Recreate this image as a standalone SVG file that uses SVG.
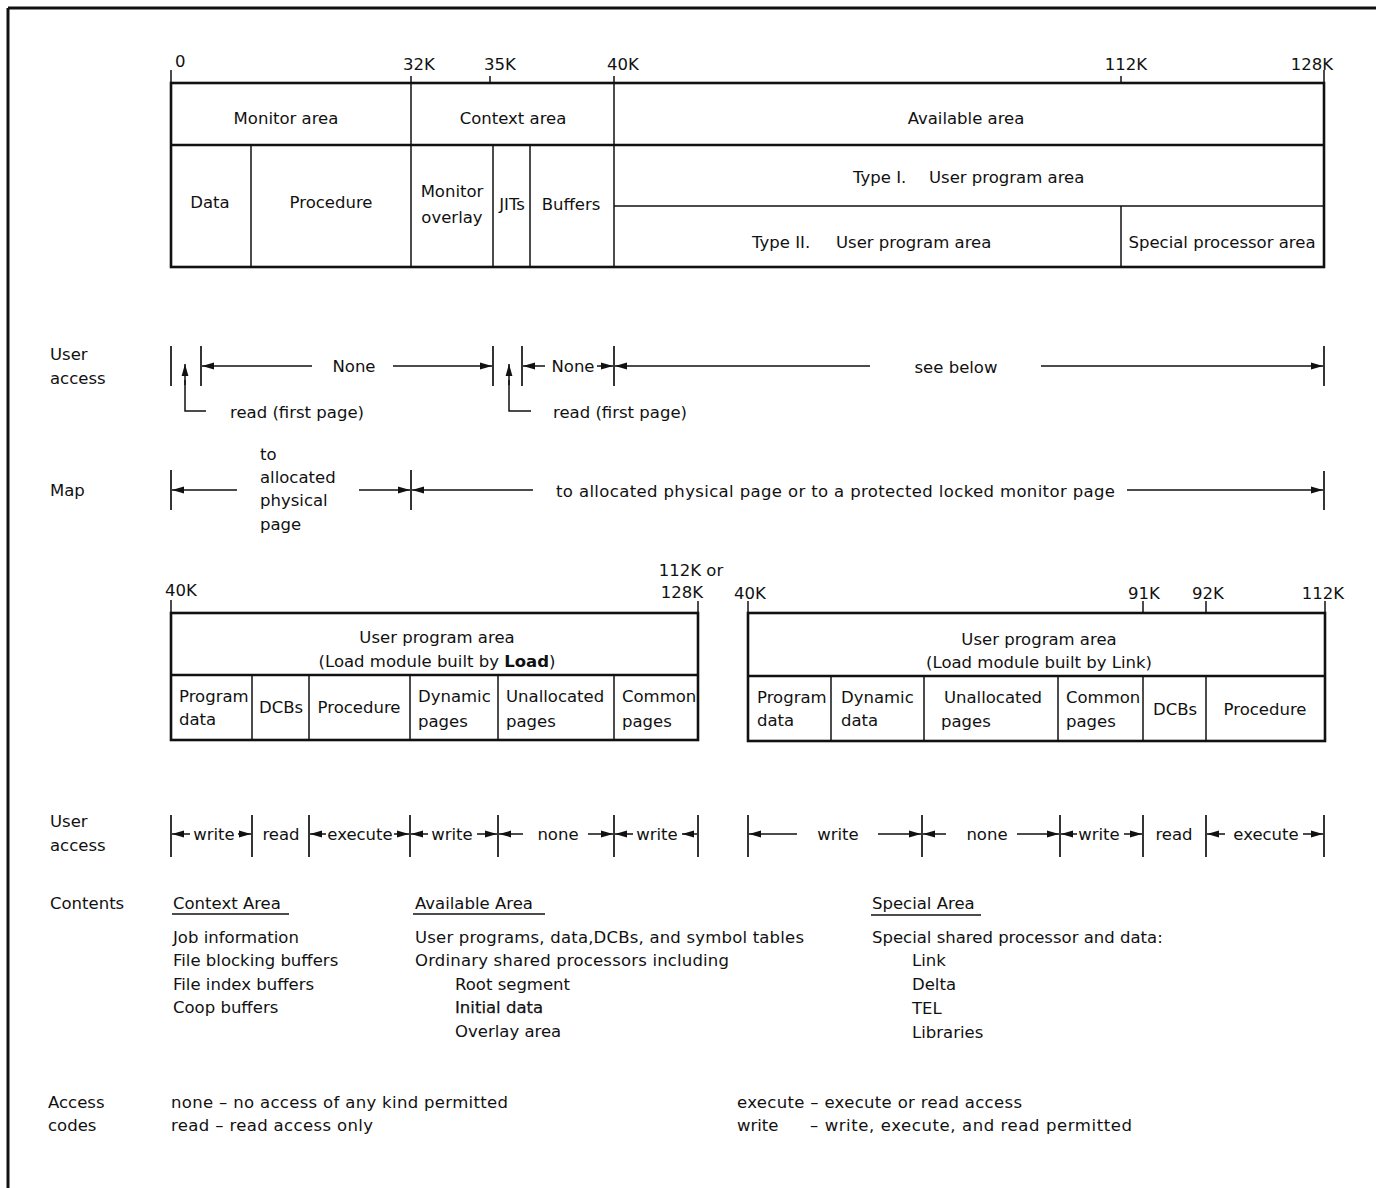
<svg xmlns="http://www.w3.org/2000/svg" width="1376" height="1188" viewBox="0 0 1376 1188">
<style>
text{font-family:"DejaVu Sans","Liberation Sans",sans-serif;font-size:16.5px;fill:#111}
.c{text-anchor:middle}
.e{text-anchor:end}
.box{fill:none;stroke:#111;stroke-width:2.6}
.ln{stroke:#111;stroke-width:1.5;fill:none}
.bar{stroke:#111;stroke-width:1.7}
.ar{stroke:#111;stroke-width:1.5;fill:none;marker-end:url(#ah)}
.b{font-weight:bold}
</style>
<defs>
<marker id="ah" markerWidth="12" markerHeight="8" refX="12" refY="4" orient="auto" markerUnits="userSpaceOnUse">
<path d="M0,0.6 L12,4 L0,7.4 z" fill="#111"/>
</marker>
</defs>
<rect width="1376" height="1188" fill="#fff"/>
<g id="frame">
<line x1="8" y1="8" x2="1376" y2="8" stroke="#111" stroke-width="3"/>
<line x1="8" y1="8" x2="8" y2="1188" stroke="#111" stroke-width="3"/>
</g>

<g id="memory-map">
<rect class="box" x="171" y="83" width="1153" height="184"/>
<line class="box" x1="171" y1="145" x2="1324" y2="145"/>
<line class="ln" x1="614" y1="206" x2="1324" y2="206"/>
<line class="ln" x1="411" y1="76" x2="411" y2="267"/>
<line class="ln" x1="614" y1="76" x2="614" y2="267"/>
<line class="ln" x1="251" y1="145" x2="251" y2="267"/>
<line class="ln" x1="493" y1="145" x2="493" y2="267"/>
<line class="ln" x1="530" y1="145" x2="530" y2="267"/>
<line class="ln" x1="1121" y1="206" x2="1121" y2="267"/>
<line class="ln" x1="171" y1="70" x2="171" y2="83"/>
<line class="ln" x1="490" y1="76" x2="490" y2="83"/>
<line class="ln" x1="1121" y1="76" x2="1121" y2="83"/>
<line class="ln" x1="1324" y1="70" x2="1324" y2="83"/>
<text x="175" y="67">0</text>
<text class="c" x="419" y="70">32K</text>
<text class="c" x="500" y="70">35K</text>
<text class="c" x="623" y="70">40K</text>
<text class="c" x="1126" y="70">112K</text>
<text class="e" x="1333" y="70">128K</text>
<text class="c" x="286" y="124">Monitor area</text>
<text class="c" x="513" y="124">Context area</text>
<text class="c" x="966" y="124">Available area</text>
<text class="c" x="210" y="208">Data</text>
<text class="c" x="331" y="208">Procedure</text>
<text class="c" x="452" y="197">Monitor</text>
<text class="c" x="452" y="223">overlay</text>
<text class="c" x="512" y="210">JITs</text>
<text class="c" x="571" y="210">Buffers</text>
<text x="853" y="183">Type I.</text>
<text x="929" y="183">User program area</text>
<text x="752" y="248">Type II.</text>
<text x="836" y="248">User program area</text>
<text class="c" x="1222" y="248">Special processor area</text>
</g>

<g id="row-labels">
<text x="50" y="360">User</text>
<text x="50" y="384">access</text>
<text x="50" y="496">Map</text>
<text x="50" y="827">User</text>
<text x="50" y="851">access</text>
<text x="50" y="909">Contents</text>
<text x="48" y="1108">Access</text>
<text x="48" y="1131">codes</text>
</g>

<g id="user-access-1">
<text class="c" x="354" y="372">None</text>
<text class="c" x="573" y="372">None</text>
<text class="c" x="956" y="373">see below</text>
<text x="230" y="418">read (first page)</text>
<text x="553" y="418">read (first page)</text>
</g>

<g id="map-row">
<text x="260" y="460">to</text>
<text x="260" y="483">allocated</text>
<text x="260" y="506">physical</text>
<text x="260" y="530">page</text>
<text x="556" y="497" textLength="559">to allocated physical page or to a protected locked monitor page</text>
</g>

<g id="load-box">
<rect class="box" x="171" y="613" width="527" height="127"/>
<line class="box" x1="171" y1="675" x2="698" y2="675"/>
<line class="ln" x1="171" y1="600" x2="171" y2="613"/>
<line class="ln" x1="698" y1="601" x2="698" y2="613"/>
<line class="ln" x1="252" y1="675" x2="252" y2="740"/>
<line class="ln" x1="309" y1="675" x2="309" y2="740"/>
<line class="ln" x1="410" y1="675" x2="410" y2="740"/>
<line class="ln" x1="498" y1="675" x2="498" y2="740"/>
<line class="ln" x1="614" y1="675" x2="614" y2="740"/>
<text x="165" y="596">40K</text>
<text class="c" x="691" y="576">112K or</text>
<text class="e" x="703" y="598">128K</text>
<text class="c" x="437" y="643">User program area</text>
<text class="c" x="437" y="667">(Load module built by <tspan class="b">Load</tspan>)</text>
<text x="179" y="702">Program</text>
<text x="179" y="725">data</text>
<text class="c" x="281" y="713">DCBs</text>
<text class="c" x="359" y="713">Procedure</text>
<text x="418" y="702">Dynamic</text>
<text x="418" y="727">pages</text>
<text x="506" y="702">Unallocated</text>
<text x="506" y="727">pages</text>
<text x="622" y="702">Common</text>
<text x="622" y="727">pages</text>
</g>

<g id="link-box">
<rect class="box" x="748" y="613" width="577" height="128"/>
<line class="box" x1="748" y1="676" x2="1325" y2="676"/>
<line class="ln" x1="748" y1="601" x2="748" y2="613"/>
<line class="ln" x1="1143" y1="601" x2="1143" y2="613"/>
<line class="ln" x1="1206" y1="601" x2="1206" y2="613"/>
<line class="ln" x1="1325" y1="601" x2="1325" y2="613"/>
<line class="ln" x1="831" y1="676" x2="831" y2="741"/>
<line class="ln" x1="924" y1="676" x2="924" y2="741"/>
<line class="ln" x1="1058" y1="676" x2="1058" y2="741"/>
<line class="ln" x1="1143" y1="676" x2="1143" y2="741"/>
<line class="ln" x1="1206" y1="676" x2="1206" y2="741"/>
<text x="734" y="599">40K</text>
<text class="c" x="1144" y="599">91K</text>
<text class="c" x="1208" y="599">92K</text>
<text class="e" x="1344" y="599">112K</text>
<text class="c" x="1039" y="645">User program area</text>
<text class="c" x="1039" y="668">(Load module built by Link)</text>
<text x="757" y="703">Program</text>
<text x="757" y="726">data</text>
<text x="841" y="703">Dynamic</text>
<text x="841" y="726">data</text>
<text class="c" x="993" y="703">Unallocated</text>
<text x="941" y="727">pages</text>
<text x="1066" y="703">Common</text>
<text x="1066" y="727">pages</text>
<text class="c" x="1175" y="715">DCBs</text>
<text class="c" x="1265" y="715">Procedure</text>
</g>

<g id="user-access-2">
<text class="c" x="214" y="840">write</text>
<text class="c" x="281" y="840">read</text>
<text class="c" x="360" y="840">execute</text>
<text class="c" x="452" y="840">write</text>
<text class="c" x="558" y="840">none</text>
<text class="c" x="657" y="840">write</text>
<text class="c" x="838" y="840">write</text>
<text class="c" x="987" y="840">none</text>
<text class="c" x="1099" y="840">write</text>
<text class="c" x="1174" y="840">read</text>
<text class="c" x="1266" y="840">execute</text>
</g>

<g id="contents">
<text x="173" y="909">Context Area</text>
<line class="ln" x1="172" y1="914" x2="289" y2="914"/>
<text x="173" y="943">Job information</text>
<text x="173" y="966">File blocking buffers</text>
<text x="173" y="990">File index buffers</text>
<text x="173" y="1013">Coop buffers</text>
<text x="415" y="909">Available Area</text>
<line class="ln" x1="413" y1="914" x2="545" y2="914"/>
<text x="415" y="943" textLength="389">User programs, data,DCBs, and symbol tables</text>
<text x="415" y="966" textLength="314">Ordinary shared processors including</text>
<text x="455" y="990">Root segment</text>
<text x="455" y="1013" stroke="#111" stroke-width="0.25">Initial data</text>
<text x="455" y="1037">Overlay area</text>
<text x="872" y="909">Special Area</text>
<line class="ln" x1="871" y1="915" x2="981" y2="915"/>
<text x="872" y="943">Special shared processor and data:</text>
<text x="912" y="966">Link</text>
<text x="912" y="990">Delta</text>
<text x="912" y="1014">TEL</text>
<text x="912" y="1038">Libraries</text>
</g>

<g id="access-codes">
<text x="171" y="1108" textLength="337">none – no access of any kind permitted</text>
<text x="171" y="1131" textLength="202">read – read access only</text>
<text x="737" y="1108" textLength="285">execute – execute or read access</text>
<text x="737" y="1131">write</text>
<text x="810" y="1131" textLength="322">– write, execute, and read permitted</text>
</g>

<g id="connectors">
<line class="bar" x1="171" y1="346" x2="171" y2="386"/>
<line class="bar" x1="201" y1="346" x2="201" y2="386"/>
<line class="bar" x1="493" y1="346" x2="493" y2="386"/>
<line class="bar" x1="522" y1="346" x2="522" y2="386"/>
<line class="bar" x1="614" y1="346" x2="614" y2="386"/>
<line class="bar" x1="1324" y1="346" x2="1324" y2="386"/>
<line class="ar" x1="312" y1="366" x2="202" y2="366"/>
<line class="ar" x1="393" y1="366" x2="492" y2="366"/>
<line class="ar" x1="545" y1="366" x2="523" y2="366"/>
<line class="ar" x1="597" y1="366" x2="613" y2="366"/>
<line class="ar" x1="870" y1="366" x2="615" y2="366"/>
<line class="ar" x1="1041" y1="366" x2="1323" y2="366"/>
<polyline class="ln" points="206,411 185,411 185,380"/>
<line class="ar" x1="185" y1="385" x2="185" y2="364"/>
<polyline class="ln" points="531,411 509,411 509,380"/>
<line class="ar" x1="509" y1="385" x2="509" y2="364"/>
<line class="bar" x1="171" y1="470" x2="171" y2="510"/>
<line class="bar" x1="411" y1="470" x2="411" y2="510"/>
<line class="bar" x1="1324" y1="471" x2="1324" y2="510"/>
<line class="ar" x1="237" y1="490" x2="172" y2="490"/>
<line class="ar" x1="359" y1="490" x2="410" y2="490"/>
<line class="ar" x1="533" y1="490" x2="412" y2="490"/>
<line class="ar" x1="1127" y1="490" x2="1323" y2="490"/>
<line class="bar" x1="171" y1="815" x2="171" y2="857"/>
<line class="bar" x1="252" y1="815" x2="252" y2="857"/>
<line class="bar" x1="309" y1="815" x2="309" y2="857"/>
<line class="bar" x1="410" y1="815" x2="410" y2="857"/>
<line class="bar" x1="498" y1="815" x2="498" y2="857"/>
<line class="bar" x1="614" y1="815" x2="614" y2="857"/>
<line class="bar" x1="698" y1="815" x2="698" y2="857"/>
<line class="ar" x1="190" y1="834" x2="172" y2="834"/>
<line class="ar" x1="238" y1="834" x2="251" y2="834"/>
<line class="ar" x1="326" y1="834" x2="310" y2="834"/>
<line class="ar" x1="394" y1="834" x2="409" y2="834"/>
<line class="ar" x1="428" y1="834" x2="411" y2="834"/>
<line class="ar" x1="477" y1="834" x2="497" y2="834"/>
<line class="ar" x1="523" y1="834" x2="499" y2="834"/>
<line class="ar" x1="588" y1="834" x2="613" y2="834"/>
<line class="ar" x1="633" y1="834" x2="615" y2="834"/>
<line class="ar" x1="697" y1="834" x2="682" y2="834"/>
<line class="bar" x1="748" y1="815" x2="748" y2="857"/>
<line class="bar" x1="922" y1="815" x2="922" y2="857"/>
<line class="bar" x1="1060" y1="815" x2="1060" y2="857"/>
<line class="bar" x1="1143" y1="815" x2="1143" y2="857"/>
<line class="bar" x1="1206" y1="815" x2="1206" y2="857"/>
<line class="bar" x1="1324" y1="815" x2="1324" y2="857"/>
<line class="ar" x1="797" y1="834" x2="749" y2="834"/>
<line class="ar" x1="878" y1="834" x2="921" y2="834"/>
<line class="ar" x1="946" y1="834" x2="923" y2="834"/>
<line class="ar" x1="1017" y1="834" x2="1059" y2="834"/>
<line class="ar" x1="1077" y1="834" x2="1061" y2="834"/>
<line class="ar" x1="1124" y1="834" x2="1142" y2="834"/>
<line class="ar" x1="1225" y1="834" x2="1207" y2="834"/>
<line class="ar" x1="1303" y1="834" x2="1323" y2="834"/>
</g>
</svg>
